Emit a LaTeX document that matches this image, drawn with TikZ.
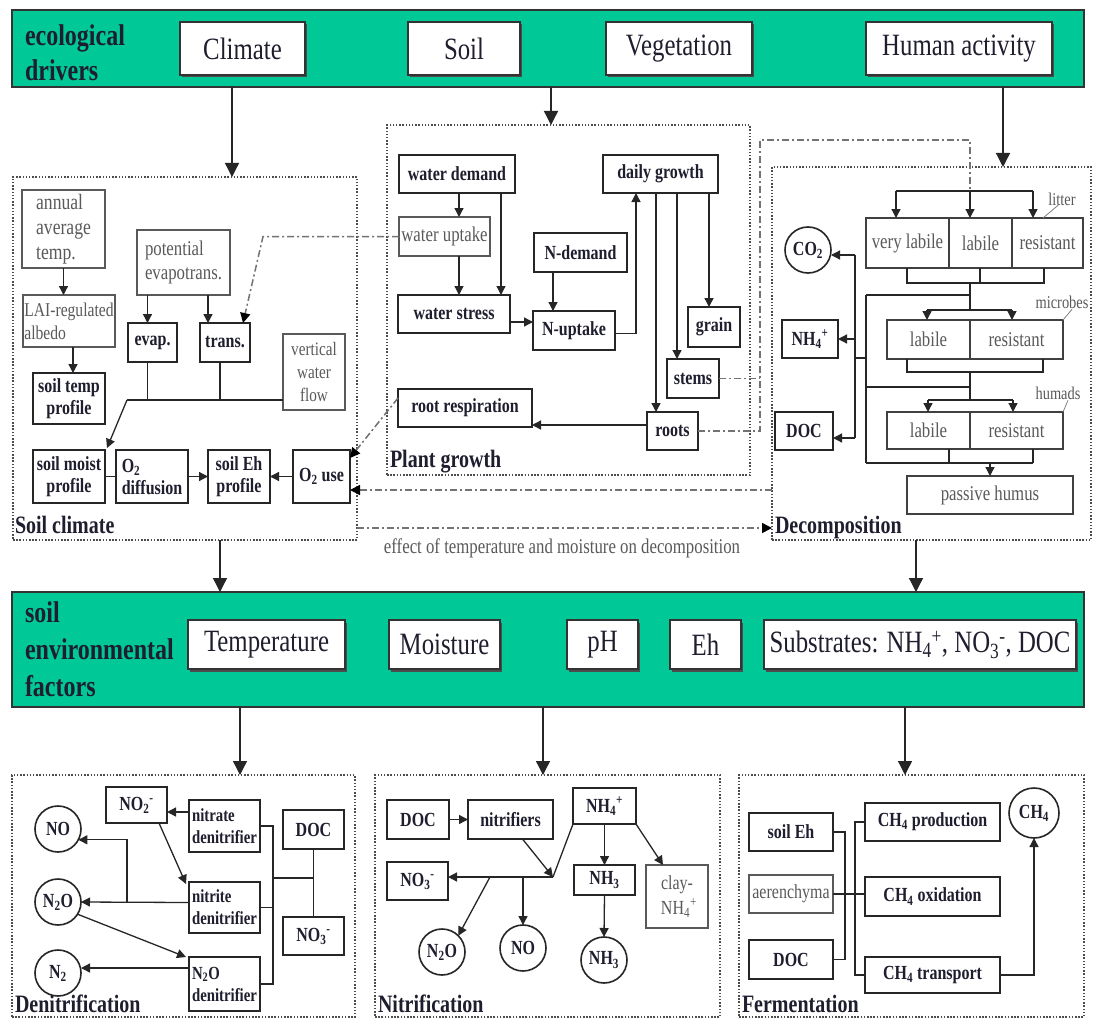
\documentclass[tikz,border=0pt]{standalone}
\usepackage{fontspec}
\setmainfont{Liberation Serif}[FakeStretch=0.8]
\usetikzlibrary{arrows.meta,shadows}
\definecolor{bargreen}{HTML}{00C896}
\definecolor{gtext}{HTML}{5A5A5A}
\definecolor{dtext}{HTML}{1E1E2E}
\newcommand\fs[2]{\fontsize{#1}{#2}\selectfont}
\newcommand\subsup[2]{\textsubscript{#1}\textsuperscript{#2}}
\newcommand\bx[7]{\node[#6, minimum width={(#4)-(#2)}, minimum height={(#5)-(#3)}] (#1) at ({((#2)+(#4))/2},{((#3)+(#5))/2}) {#7};}
\tikzset{
  every node/.style={inner sep=0pt, outer sep=0pt},
  bbox/.style={draw=black!85, line width=1.8pt, fill=white, text=dtext, font=\bfseries\fs{20}{22}, align=center},
  tbox/.style={draw=black!65, line width=1.1pt, fill=white, text=gtext, font=\fs{21}{24}, align=center},
  cell/.style={draw=black!75, line width=1.2pt, text=gtext, font=\fs{21}{24}, align=center},
  topbox/.style={draw=black!80, line width=1.2pt, fill=white, text=dtext, font=\fs{31}{34}, drop shadow={shadow xshift=2pt, shadow yshift=-2.5pt, fill=black!70, opacity=1}},
  bar/.style={draw=black!80, line width=2.5pt, fill=bargreen},
  region/.style={draw=black!70, line width=1.4pt, dash pattern=on 1.5pt off 1.7pt},
  ln/.style={draw=black!85, line width=1.3pt},
  arr/.style={ln, -{Triangle[length=9pt,width=9pt]}},
  bigarr/.style={ln, -{Triangle[length=14pt,width=14pt]}},
  dd/.style={draw=black!55, line width=1.5pt, dash pattern=on 7pt off 3pt on 2pt off 3pt},
  ddarr/.style={dd, -{Triangle[length=10pt,width=10pt,color=black]}},
  circ/.style={circle, draw=black!85, line width=1.6pt, fill=white, minimum size=46pt, text=dtext, font=\bfseries\fs{20}{22}},
  reglab/.style={anchor=base west, text=dtext, font=\bfseries\fs{25}{28}},
  barlab/.style={anchor=north west, align=left, text=dtext, font=\bfseries\fs{30}{35}},
  smalllab/.style={text=gtext, font=\fs{18}{20}},
  leader/.style={draw=black!50, line width=0.8pt},
}
\begin{document}
\begin{tikzpicture}[x=1pt,y=-1pt]
\fill[white] (0,0) rectangle (1094,1019);
\useasboundingbox (0,0) rectangle (1094,1019);

% ---------- regions ----------
\bx{soilclim}{13}{177}{357}{540}{region}{}
\bx{plantg}{387}{125}{750}{475}{region}{}
\bx{decomp}{772}{167}{1091}{540}{region}{}
\bx{denit}{12}{775}{355}{1017}{region}{}
\bx{nitri}{375}{775}{720}{1017}{region}{}
\bx{ferm}{739}{775}{1084}{1017}{region}{}
\node[reglab] (lsc) at (15,533) {Soil climate};
\node[reglab] (lpg) at (390,467) {Plant growth};
\node[reglab] (ldc) at (775,533) {Decomposition};
\node[reglab] (lde) at (15,1012) {Denitrification};
\node[reglab] (lni) at (378,1012) {Nitrification};
\node[reglab] (lfe) at (742,1012) {Fermentation};

% ---------- top bar ----------
\bx{topbar}{12}{10}{1084}{87}{bar}{}
\node[barlab] (ecol) at (25,25) {ecological\\drivers};
\bx{climate}{180}{22}{305}{75}{topbox}{Climate}
\bx{soil}{408}{22}{520}{75}{topbox}{Soil}
\bx{veg}{606}{22}{752}{75}{topbox}{Vegetation}
\bx{human}{866}{22}{1052}{75}{topbox}{Human activity}
\coordinate (xa) at (232,0);
\coordinate (xb) at (551,0);
\coordinate (xc) at (1003,0);
\draw[bigarr] (topbar.south -| xa) -- (soilclim.north -| xa);
\draw[bigarr] (topbar.south -| xb) -- (plantg.north -| xb);
\draw[bigarr] (topbar.south -| xc) -- (decomp.north -| xc);

% ---------- soil climate ----------
\bx{aat}{22}{190}{105}{268}{tbox, align=left, font=\fs{22}{25}}{annual\\average\\temp.}
\bx{lai}{23}{295}{115}{347}{tbox, align=left, font=\fs{19.5}{23}}{LAI-regulated\\albedo}
\bx{pet}{137}{230}{230}{295}{tbox, align=left}{potential\\evapotrans.}
\bx{evap}{128}{323}{177}{362}{bbox}{evap.}
\bx{trans}{200}{323}{250}{362}{bbox}{trans.}
\bx{vwf}{283}{334}{345}{410}{tbox, font=\fs{19}{23}}{vertical\\water\\flow}
\bx{stp}{33}{373}{105}{424}{bbox}{soil temp\\profile}
\bx{smp}{33}{450}{105}{503}{bbox}{soil moist\\profile}
\bx{o2d}{116}{450}{188}{503}{bbox, align=left}{O\textsubscript{2}\\diffusion}
\bx{seh}{208}{450}{270}{503}{bbox}{soil Eh\\profile}
\bx{o2u}{293}{450}{350}{503}{bbox}{O\textsubscript{2} use}
\draw[arr] (aat.south) -- (aat.south |- lai.north);
\draw[arr] ([xshift=4pt]lai.south) -- ([xshift=4pt]lai.south |- stp.north);
\draw[arr] ([xshift=-5pt]evap.north |- pet.south) -- ([xshift=-5pt]evap.north);
\draw[arr] ([xshift=-17pt]trans.north |- pet.south) -- ([xshift=-17pt]trans.north);
\coordinate (j1) at (127,400);
\draw[ln] ([xshift=-5pt]evap.south) -- ([xshift=-5pt]evap.south |- j1);
\draw[ln] ([xshift=-5pt]trans.south) -- ([xshift=-5pt]trans.south |- j1);
\draw[ln] (vwf.west |- j1) -- (j1);
\draw[arr] (j1) -- ([xshift=2pt,yshift=2pt]smp.north east);
\draw[ln] (smp.east) -- (o2d.west);
\draw[arr] (o2d.east) -- (seh.west);
\draw[arr] (o2u.west) -- (seh.east);

% ---------- plant growth ----------
\bx{wd}{399}{155}{515}{193}{bbox}{water demand}
\bx{wu}{399}{217}{490}{256}{tbox}{water uptake}
\bx{ws}{398}{295}{510}{333}{bbox}{water stress}
\bx{nd}{534}{233}{627}{272}{bbox}{N-demand}
\bx{nu}{533}{311}{615}{350}{bbox}{N-uptake}
\bx{dg}{603}{155}{718}{193}{bbox}{daily growth}
\bx{grain}{688}{307}{740}{347}{bbox}{grain}
\bx{stems}{667}{359}{719}{398}{bbox}{stems}
\bx{roots}{647}{412}{698}{450}{bbox}{roots}
\bx{rr}{398}{389}{532}{427}{bbox}{root respiration}
\coordinate (p459) at (459,0);
\coordinate (p501) at (501,0);
\coordinate (p553) at (553,0);
\coordinate (p636) at (636,0);
\coordinate (p656) at (656,0);
\coordinate (p677) at (677,0);
\coordinate (p709) at (709,0);
\coordinate (p322) at (0,322);
\draw[arr] (wd.south -| p459) -- (wu.north -| p459);
\draw[arr] (wd.south -| p501) -- (ws.north -| p501);
\draw[arr] (wu.south -| p459) -- (ws.north -| p459);
\draw[arr] (nd.south -| p553) -- (nu.north -| p553);
\draw[arr] (ws.east |- p322) -- (nu.west |- p322);
\draw[arr] ([yshift=-3pt]nu.east) -| (dg.south -| p636);
\draw[arr] (dg.south -| p656) -- (roots.north -| p656);
\draw[arr] (dg.south -| p677) -- (stems.north -| p677);
\draw[arr] (dg.south -| p709) -- (grain.north -| p709);
\draw[arr] ([yshift=6pt]roots.west) -- ([yshift=6pt]roots.west -| rr.east);

% ---------- dash-dot influences ----------
\coordinate (wk) at (263,0);
\draw[ddarr] (wu.west) -- (wu.west -| wk) -- ([xshift=-7pt]trans.north east);
\draw[ddarr] ([yshift=10pt]rr.west) -- ([yshift=-8pt]o2u.north east);
\coordinate (y490) at (0,490);
\coordinate (y528) at (0,528);
\draw[ddarr] (decomp.west |- y490) -- (o2u.east |- y490);
\draw[ddarr] (soilclim.east |- y528) -- (decomp.west |- y528);
\node[text=gtext, font=\fs{21}{24}] (efflab) at (562,548) {effect of temperature and moisture on decomposition};

% ---------- decomposition ----------
\bx{lvl}{866}{218}{949}{268}{cell}{very labile}
\bx{ll}{949}{218}{1012}{268}{cell}{labile}
\bx{lr}{1012}{218}{1083}{268}{cell}{resistant}
\bx{ml}{887}{320}{970}{359}{cell}{labile}
\bx{mr}{970}{320}{1063}{359}{cell}{resistant}
\bx{hl}{887}{412}{970}{449}{cell}{labile}
\bx{hr}{970}{412}{1063}{449}{cell}{resistant}
\bx{phum}{907}{476}{1073}{514}{cell}{passive humus}
\node[circ] (co2) at (808,250) {CO\textsubscript{2}};
\bx{cnh4}{782}{320}{838}{358}{bbox}{NH\subsup{4}{+}}
\bx{cdoc}{775}{412}{833}{450}{bbox}{DOC}
\node[smalllab] (litlab) at (1062,199) {litter};
\node[smalllab] (miclab) at (1062,302) {microbes};
\node[smalllab] (humlab) at (1058,393) {humads};
\draw[leader] ([xshift=-40pt]lr.north east) -- ([xshift=-4pt]litlab.south);
\draw[leader] (mr.north east) -- ([xshift=10pt,yshift=-1pt]miclab.south);
\draw[leader] (hr.north east) -- ([xshift=10pt,yshift=-1pt]humlab.south);
% stems / roots to litter
\coordinate (ddtop) at (760,140);
\coordinate (ld) at (970,191);
\coordinate (ld1) at (896,191);
\coordinate (ld3) at (1033,191);
\draw[dd] (stems.east) -- (stems.east -| ddtop);
\draw[dd] (roots.east) -- (roots.east -| ddtop) -- (ddtop) -- (ddtop -| ld) -- (ld);
\draw[ln] (ld1) -- (ld3);
\draw[arr] (ld1) -- (ld1 |- lvl.north);
\draw[arr] (ld) -- (ld |- ll.north);
\draw[arr] (ld3) -- (ld3 |- lr.north);
% litter -> microbes
\coordinate (lb1) at (907,283);
\coordinate (lb2) at (980,283);
\coordinate (lb3) at (1044,283);
\draw[ln] (lb1 |- lvl.south) -- (lb1) -- (lb3) -- (lb3 |- lr.south);
\draw[ln] (lb2 |- ll.south) -- (lb2);
\coordinate (mj) at (970,283);
\coordinate (md) at (970,310);
\draw[ln] (mj) -- (md);
\coordinate (lk) at (866,295);
\draw[ln] (lk) -- (lk -| mj);
\coordinate (m1) at (927,310);
\coordinate (m2) at (1012,310);
\draw[ln] (m1) -- (m2);
\draw[arr] (m1) -- (m1 |- ml.north);
\draw[arr] (m2) -- (m2 |- mr.north);
% microbes -> humads
\coordinate (mb1) at (907,372);
\coordinate (mb2) at (1043,372);
\draw[ln] (mb1 |- ml.south) -- (mb1) -- (mb2) -- (mb2 |- mr.south);
\coordinate (hj) at (970,372);
\coordinate (hd) at (970,400);
\draw[ln] (hj) -- (hd);
\coordinate (hk) at (866,387);
\draw[ln] (hk) -- (hk -| hj);
\coordinate (h1) at (928,400);
\coordinate (h2) at (1013,400);
\draw[ln] (h1) -- (h2);
\draw[arr] (h1) -- (h1 |- hl.north);
\draw[arr] (h2) -- (h2 |- hr.north);
% humads -> passive humus
\coordinate (hb0) at (866,463);
\coordinate (hb1) at (949,463);
\coordinate (hb2) at (1033,463);
\draw[ln] (hb1 |- hl.south) -- (hb1);
\draw[ln] (hb2 |- hr.south) -- (hb2);
\draw[ln] (hb0) -- (hb2);
\coordinate (pa) at (990,463);
\draw[arr] (pa) -- (pa |- phum.north);
% outputs
\draw[ln] (lk) -- (hb0);
\coordinate (cx) at (855,255);
\coordinate (cx2) at (855,438);
\coordinate (lnk) at (855,358);
\draw[ln] (cx) -- (cx2);
\draw[ln] (lnk) -- (lnk -| lk);
\draw[arr] (cx) -- (cx -| co2.east);
\draw[arr] (cx |- cnh4.east) -- (cnh4.east);
\draw[arr] (cx2) -- (cx2 -| cdoc.east);

% ---------- soil environmental factors ----------
\coordinate (xd) at (220,0);
\coordinate (xe) at (916,0);
\bx{envbar}{12}{592}{1084}{707}{bar}{}
\draw[bigarr] (soilclim.south -| xd) -- (envbar.north -| xd);
\draw[bigarr] (decomp.south -| xe) -- (envbar.north -| xe);
\node[barlab, font=\bfseries\fs{30}{37}] (envlab) at (25,602) {soil\\environmental\\factors};
\bx{temp}{188}{620}{345}{669}{topbox}{Temperature}
\bx{moist}{389}{620}{500}{669}{topbox}{Moisture}
\bx{phb}{567}{620}{638}{669}{topbox}{pH}
\bx{ehb}{670}{620}{741}{669}{topbox}{Eh}
\bx{subs}{764}{620}{1076}{669}{topbox}{Substrates: NH\subsup{4}{+}, NO\subsup{3}{-}, DOC}
\coordinate (xf) at (240,0);
\coordinate (xg) at (543,0);
\coordinate (xh) at (905,0);
\draw[bigarr] (envbar.south -| xf) -- (denit.north -| xf);
\draw[bigarr] (envbar.south -| xg) -- (nitri.north -| xg);
\draw[bigarr] (envbar.south -| xh) -- (ferm.north -| xh);

% ---------- denitrification ----------
\node[circ] (dno) at (58,829) {NO};
\node[circ] (dn2o) at (58,902) {N\textsubscript{2}O};
\node[circ] (dn2) at (58,973) {N\textsubscript{2}};
\bx{dno2}{106}{787}{167}{823}{bbox}{NO\subsup{2}{-}}
\bx{nad}{189}{800}{260}{852}{bbox, align=left, font=\bfseries\fs{18.5}{22}}{nitrate\\denitrifier}
\bx{nid}{189}{882}{260}{933}{bbox, align=left, font=\bfseries\fs{18.5}{22}}{nitrite\\denitrifier}
\bx{n2od}{189}{957}{260}{1011}{bbox, align=left, font=\bfseries\fs{18.5}{22}}{N\textsubscript{2}O\\denitrifier}
\bx{ddoc}{283}{810}{344}{849}{bbox}{DOC}
\bx{dno3}{283}{917}{344}{955}{bbox}{NO\subsup{3}{-}}
\coordinate (dj) at (273,878);
\draw[ln] (ddoc.south) -- (dno3.north);
\draw[ln] (dj) -- (dj -| ddoc.south);
\draw[ln] (nad.east) -- (nad.east -| dj) -- (n2od.east -| dj) -- (n2od.east);
\draw[ln] (nid.east) -- (nid.east -| dj);
\draw[arr] ([yshift=14pt]nad.west) -- ([yshift=14pt]nad.west -| dno2.east);
\draw[arr] ([xshift=-8pt]dno2.south east) -- ([xshift=-3pt,yshift=-2pt]nid.north west);
\draw[arr] ([yshift=5pt]nid.west) -- (dn2o.east);
\coordinate (dk) at (127,0);
\draw[arr] (dk |- dn2o.east) |- (dno.-28);
\draw[arr] (dn2o.-32) -- ([xshift=-3pt]n2od.north west);
\draw[arr] ([yshift=16pt]n2od.west) -- ([yshift=16pt]n2od.west -| dn2.east);

% ---------- nitrification ----------
\bx{ndoc}{387}{800}{449}{839}{bbox}{DOC}
\bx{nitr}{468}{800}{553}{839}{bbox}{nitrifiers}
\bx{nnh4}{573}{788}{636}{824}{bbox}{NH\subsup{4}{+}}
\bx{nno3}{387}{862}{448}{900}{bbox}{NO\subsup{3}{-}}
\bx{nnh3}{574}{865}{635}{895}{bbox}{NH\textsubscript{3}}
\bx{clay}{646}{865}{708}{928}{tbox, font=\fs{20}{25}}{clay-\\\ NH\subsup{4}{+}}
\node[circ] (nn2o) at (442,952) {N\textsubscript{2}O};
\node[circ] (nno) at (523,948) {NO};
\node[circ] (nh3c) at (604,960) {NH\textsubscript{3}};
\coordinate (nj) at (553,877);
\coordinate (nb1) at (490,877);
\coordinate (nb2) at (523,877);
\draw[arr] (ndoc.east) -- (nitr.west);
\draw[arr] ([xshift=12pt]nitr.south) -- (nj);
\draw[ln] (nnh4.south west) -- (nj);
\draw[arr] (nj) -- (nj -| nno3.east);
\draw[arr] (nb1) -- (nn2o.north east);
\draw[arr] (nb2) -- (nno.north);
\draw[arr] (nnh4.south) -- (nnh3.north);
\draw[arr] (nnh4.south east) -- ([xshift=-14pt]clay.north);
\draw[arr] (nnh3.south) -- (nh3c.north);

% ---------- fermentation ----------
\bx{feh}{749}{813}{833}{851}{bbox}{soil Eh}
\bx{faer}{749}{875}{833}{913}{tbox, font=\fs{20}{23}}{aerenchyma}
\bx{fdoc}{749}{940}{833}{979}{bbox}{DOC}
\bx{fprod}{865}{803}{1000}{841}{bbox}{CH\textsubscript{4} production}
\bx{fox}{865}{877}{1000}{916}{bbox}{CH\textsubscript{4} oxidation}
\bx{ftr}{865}{957}{1000}{993}{bbox}{CH\textsubscript{4} transport}
\node[circ, minimum size=50pt] (fch4) at (1034,813) {CH\textsubscript{4}};
\coordinate (fx1) at (845,0);
\coordinate (fx2) at (855,0);
\draw[ln] (feh.east) -- (feh.east -| fx1) -- (fdoc.east -| fx1) -- (fdoc.east);
\draw[ln] (faer.east) -- (faer.east -| fox.west);
\draw[ln] (fprod.west) -- (fprod.west -| fx2) -- (ftr.west -| fx2) -- (ftr.west);
\draw[arr] (ftr.east) -| (fch4.south);
\end{tikzpicture}
\end{document}
